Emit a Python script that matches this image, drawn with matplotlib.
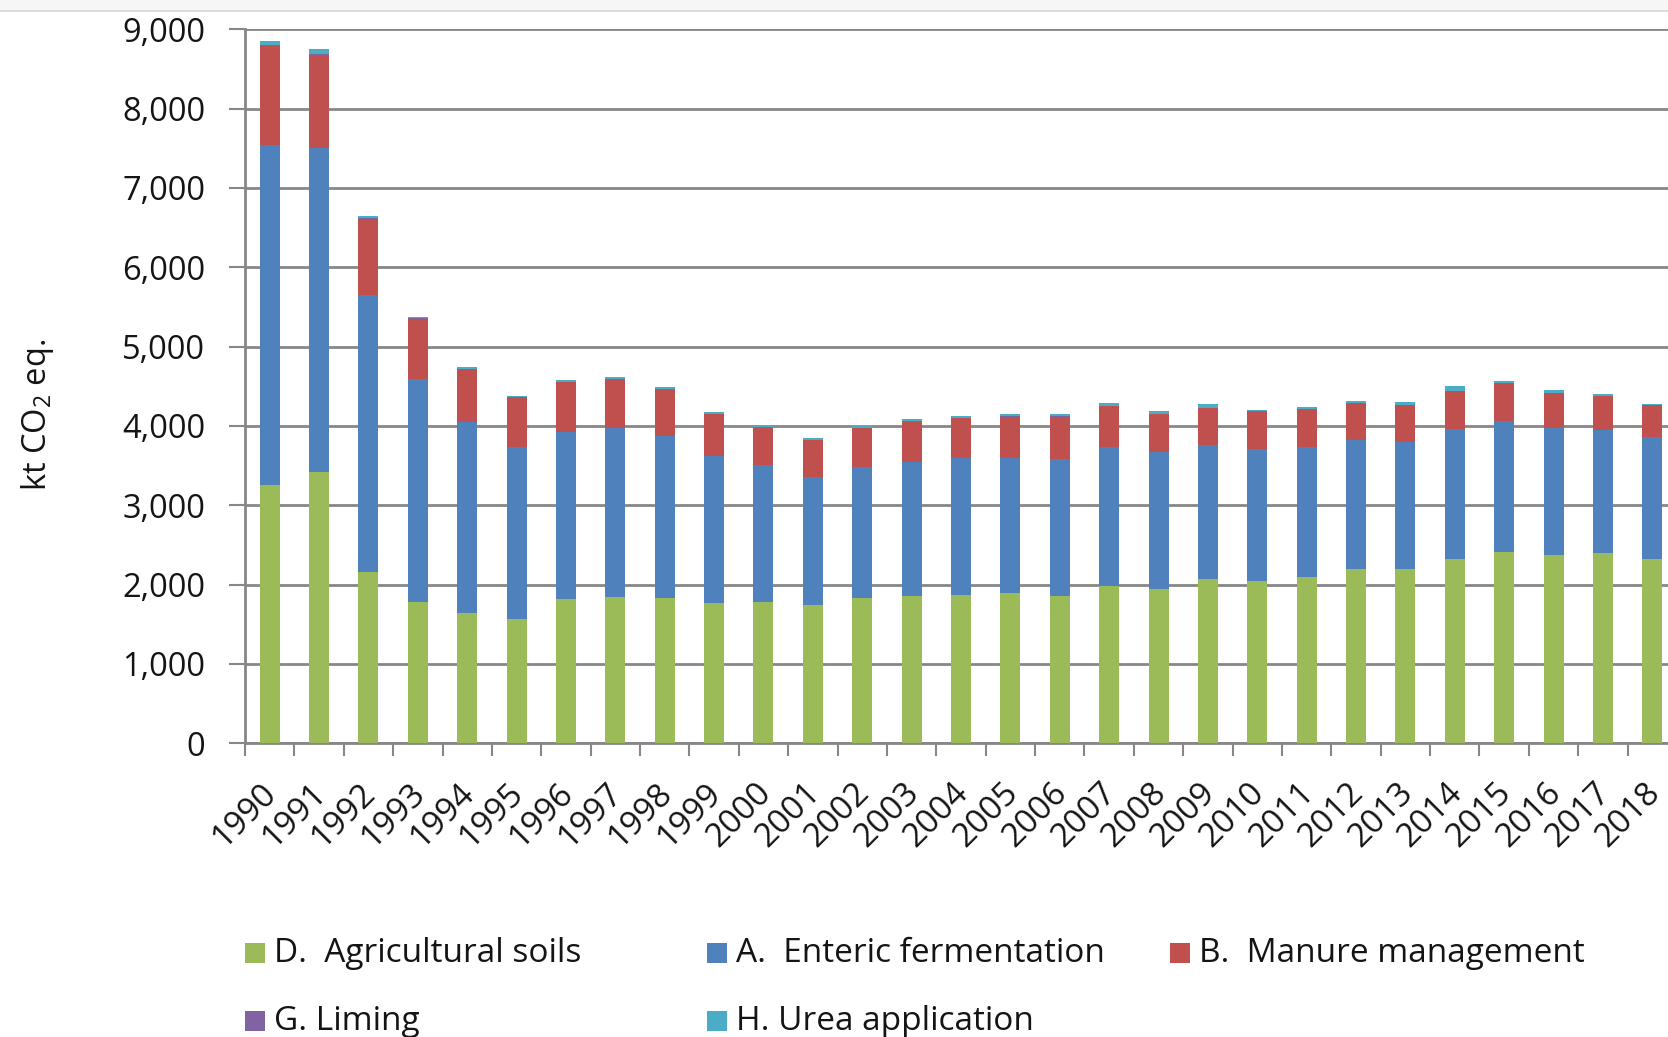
import matplotlib
matplotlib.use("Agg")
import matplotlib.pyplot as plt
from matplotlib.patches import Rectangle
from matplotlib.lines import Line2D
from matplotlib.transforms import ScaledTranslation
from matplotlib.ticker import FuncFormatter, FixedLocator
import numpy as np

# ---------------- data ----------------
years = [str(y) for y in range(1990, 2019)]

agricultural_soils = [3253, 3414, 2155, 1777, 1639, 1567, 1819, 1850, 1831, 1768,
                      1781, 1738, 1831, 1852, 1865, 1895, 1852, 1979, 1949, 2068,
                      2042, 2097, 2192, 2199, 2321, 2414, 2372, 2393, 2321]
enteric_fermentation = [4291, 4096, 3500, 2815, 2407, 2164, 2110, 2120, 2042, 1852,
                        1721, 1621, 1650, 1697, 1726, 1704, 1734, 1759, 1726, 1687,
                        1663, 1641, 1630, 1598, 1645, 1649, 1598, 1552, 1539]
manure_management = [1250, 1165, 954, 757, 668, 630, 626, 620, 591, 528,
                     477, 464, 489, 506, 506, 519, 532, 515, 473, 469,
                     476, 469, 463, 469, 474, 470, 444, 427, 402]
liming = [13, 12, 10, 6, 5, 5, 5, 5, 5, 4,
          4, 4, 4, 4, 4, 4, 4, 4, 4, 5,
          3, 3, 3, 3, 4, 4, 4, 3, 3]
urea_application = [50, 60, 32, 15, 20, 16, 20, 24, 25, 25,
                    30, 21, 26, 25, 26, 34, 26, 38, 38, 54,
                    19, 23, 28, 27, 63, 34, 34, 27, 18]

series_labels = ["D.  Agricultural soils", "A.  Enteric fermentation",
                 "B.  Manure management", "G. Liming", "H. Urea application"]
series_colors = ["#9BBB59", "#4F81BD", "#C0504D", "#8064A2", "#4BACC6"]
y_ticks = [0, 1000, 2000, 3000, 4000, 5000, 6000, 7000, 8000, 9000]

# ---------------- style ----------------
plt.rcParams["font.family"] = ["Open Sans", "DejaVu Sans"]
plt.rcParams["mathtext.fontset"] = "custom"
plt.rcParams["mathtext.rm"] = "Open Sans"
plt.rcParams["mathtext.it"] = "Open Sans"

W, H = 1668, 1037
fig = plt.figure(figsize=(W / 100, H / 100), dpi=100)
fig.patch.set_facecolor("white")

# top frame band
fig.patches.append(Rectangle((0, 1 - 11 / H), 1, 11 / H, transform=fig.transFigure,
                             facecolor="#f6f6f6", edgecolor="none", zorder=0))
fig.lines.append(Line2D([0, 1], [1 - 11 / H, 1 - 11 / H], transform=fig.transFigure,
                        color="#d6d6d6", linewidth=1.2))

x_left, x_right = 245, 1677
y_bottom, y_top = 743.3, 29.3
ax = fig.add_axes([x_left / W, 1 - y_bottom / H, (x_right - x_left) / W, (y_bottom - y_top) / H])

grid_color = "#878787"
text_color = "#141414"

x = np.arange(len(years))
bar_w = 0.405
stacks = [agricultural_soils, enteric_fermentation, manure_management, liming, urea_application]
bottom = np.zeros(len(years))
for vals, col, lab in zip(stacks, series_colors, series_labels):
    vals = np.array(vals, dtype=float)
    ax.bar(x, vals, width=bar_w, bottom=bottom, color=col, edgecolor="none",
           label=lab, zorder=3)
    bottom += vals

ax.set_xlim(-0.5, len(years) - 0.5)
ax.set_ylim(0, 9000)

ax.yaxis.set_major_locator(FixedLocator(y_ticks))
ax.yaxis.set_major_formatter(FuncFormatter(lambda v, p: f"{int(v):,}"))
ax.grid(axis="y", color=grid_color, linewidth=2.0, zorder=0)
ax.set_axisbelow(True)

for s in ["top", "right"]:
    ax.spines[s].set_visible(False)
for s in ["left", "bottom"]:
    ax.spines[s].set_color(grid_color)
    ax.spines[s].set_linewidth(2.0)

ax.tick_params(axis="y", length=11.5, width=1.5, color=grid_color, pad=17,
               labelsize=23.5, labelcolor=text_color)

# category labels at centres, tick marks between categories
ax.set_xticks(x)
ax.set_xticklabels(years, rotation=45, ha="right", va="top", rotation_mode="anchor",
                   fontsize=24, color=text_color)
ax.set_xticks(np.arange(-0.5, len(years), 1.0), minor=True)
ax.tick_params(axis="x", which="major", length=0, pad=24)
ax.tick_params(axis="x", which="minor", length=9, width=1.5, color=grid_color)
offset = ScaledTranslation(-9 / 100, 0, fig.dpi_scale_trans)
for lbl in ax.get_xticklabels():
    lbl.set_transform(lbl.get_transform() + offset)

fig.text(37 / W, 1 - 415 / H, r"kt CO$_\mathrm{2}$ eq.", rotation=90, ha="center",
         va="center", fontsize=23.5, color=text_color)

# legend (Excel-style, fixed grid)
legend_items = [
    (0, 245, 953), (1, 707, 953), (2, 1170, 953),
    (3, 245, 1021), (4, 707, 1021),
]
sq = 20
for idx, lx, ly in legend_items:
    fig.patches.append(Rectangle((lx / W, 1 - (ly + sq / 2) / H), sq / W, sq / H,
                                 transform=fig.transFigure, facecolor=series_colors[idx],
                                 edgecolor="none"))
    fig.text((lx + sq + 9) / W, 1 - ly / H, series_labels[idx], ha="left", va="center",
             fontsize=24, color=text_color)

fig.savefig("out.png", dpi=100)
